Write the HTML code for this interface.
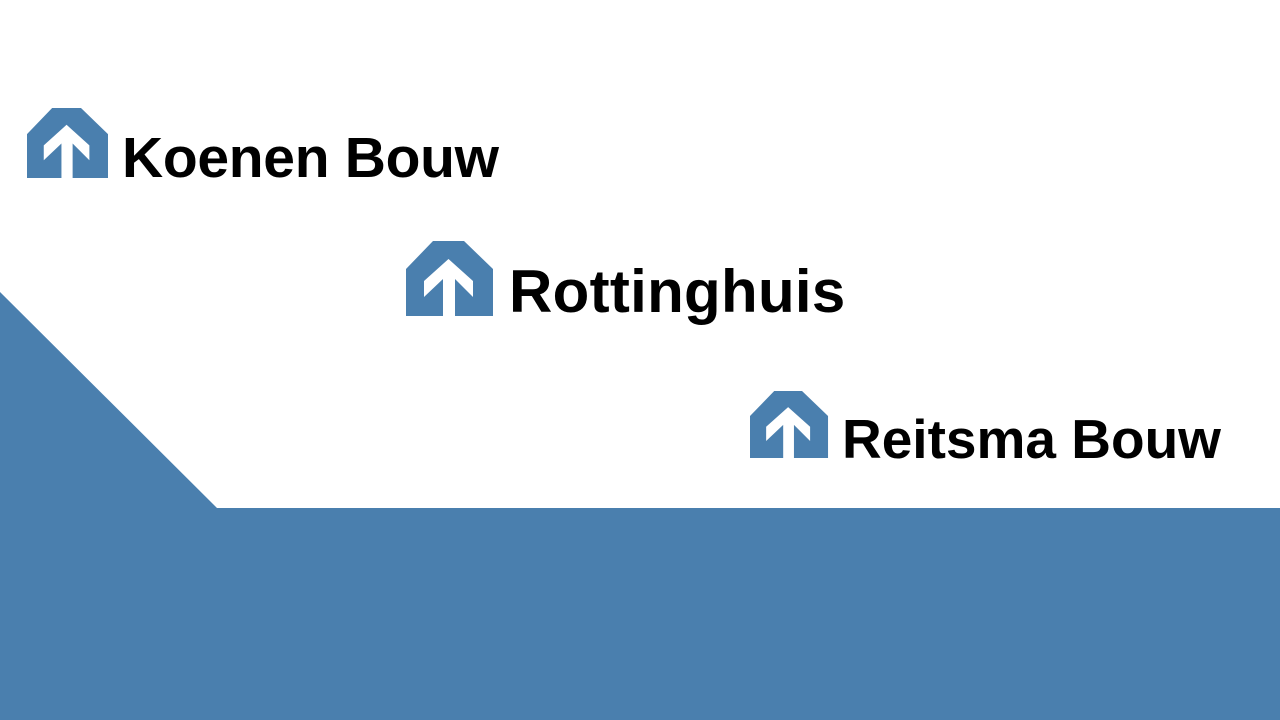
<!DOCTYPE html>
<html><head><style>
body{margin:0;width:1280px;height:720px;background:#fff;position:relative;overflow:hidden;font-family:"Liberation Sans",sans-serif}
.t{position:absolute;font-weight:bold;color:#000;white-space:nowrap;line-height:1}
svg{position:absolute}
</style></head><body>
<svg width="1280" height="720" style="left:0;top:0">
<defs><g id="lg"><path d="M0,28 L27,0 L58,0 L87,28 L87,75 L0,75 Z" fill="#4a7fae"/><path d="M42.5,18 L67,40 L67,56 L49,38 L49,75 L37,75 L37,38 L18,56 L18,40 Z" fill="#fff"/></g></defs>
<polygon points="0,292 217,508 1280,508 1280,720 0,720" fill="#4a7fae"/>
<use href="#lg" transform="translate(27,108) scale(0.931,0.933)"/>
<use href="#lg" transform="translate(406,241)"/>
<use href="#lg" transform="translate(750,391) scale(0.897,0.893)"/>
</svg>
<div class="t" style="left:122px;top:130px;font-size:57px;letter-spacing:-0.3px">Koenen Bouw</div>
<div class="t" style="left:509px;top:262px;font-size:60px;letter-spacing:0.3px">Rottinghuis</div>
<div class="t" style="left:842px;top:412px;font-size:55px;letter-spacing:0px">Reitsma Bouw</div>
</body></html>
